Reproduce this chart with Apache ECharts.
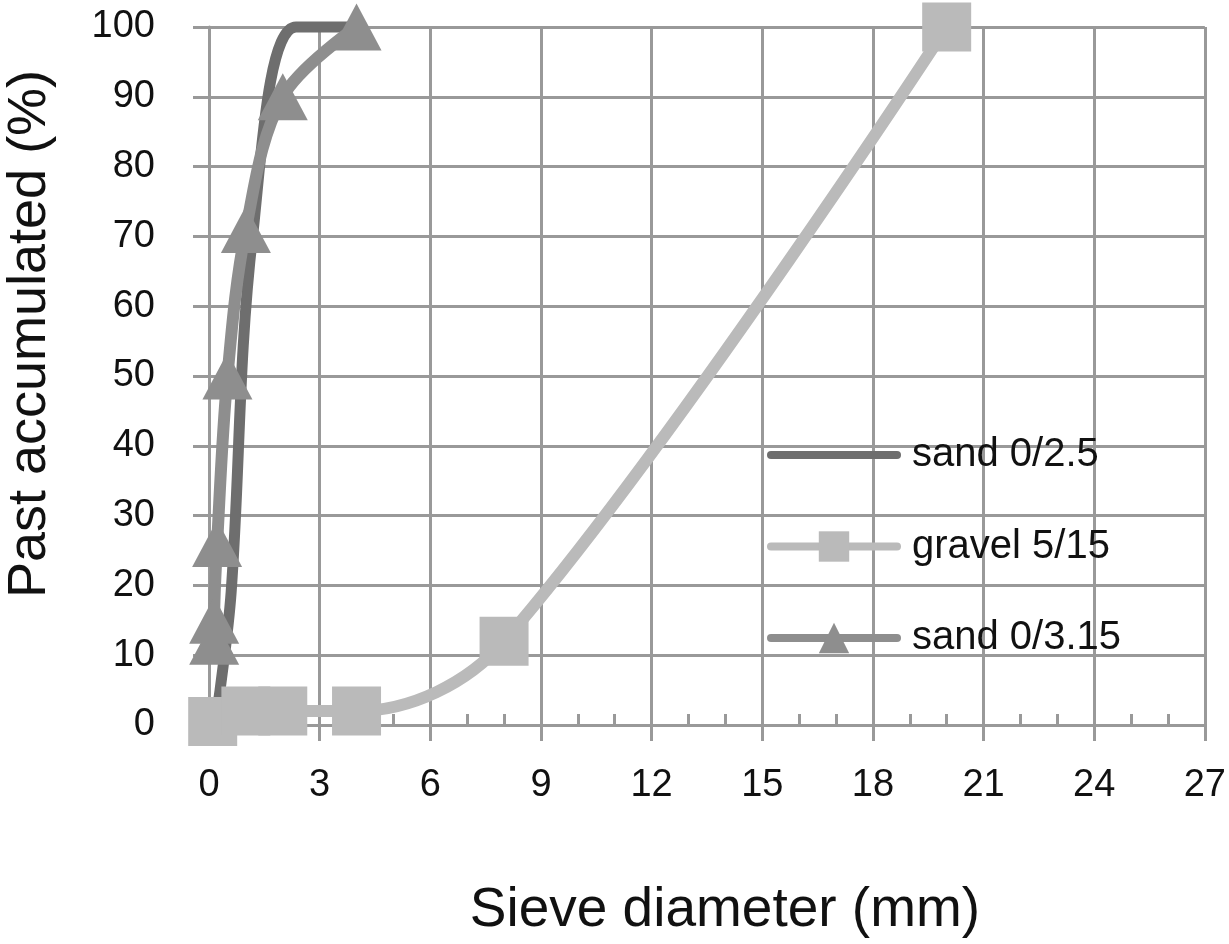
<!DOCTYPE html>
<html>
<head>
<meta charset="utf-8">
<script src="https://cdn.jsdelivr.net/npm/echarts@6/dist/echarts.min.js"></script>
<style>
  body { margin: 0; background: #fff; }
  #chart { width: 1229px; height: 944px; }
</style>
</head>
<body>
<div id="chart"></div>
<script>
// sieve diameter (mm) / past accumulated (%)
const sand25X = [0.15, 0.3, 0.6, 1.18, 2.36, 4];
const sand25Y = [0, 5, 19, 70, 100, 100];
const gravelX = [0.1, 1, 2, 4, 8, 20];
const gravelY = [0.5, 2, 2, 2, 12, 100];
const sand315X = [0.14, 0.14, 0.22, 0.5, 1, 2, 4];
const sand315Y = [12, 15, 26, 50, 71, 90, 100];
const seriesNames = ['sand 0/2.5', 'gravel 5/15', 'sand 0/3.15'];
const xTicks = [0, 3, 6, 9, 12, 15, 18, 21, 24, 27];
const yTicks = [0, 10, 20, 30, 40, 50, 60, 70, 80, 90, 100];

const font = "'Liberation Sans', Arial, sans-serif";
const gridColor = '#999999';

function pairs (xs, ys) {
  return xs.map((x, i) => [x, ys[i]]);
}

const myChart = echarts.init(document.getElementById('chart'));

const option = {
  animation: false,
  textStyle: { fontFamily: font },
  grid: { left: 209, right: 19, top: 27, bottom: 219 },
  legend: {
    orient: 'vertical',
    left: 762,
    top: 430,
    itemWidth: 126,
    itemHeight: 38,
    itemGap: 51.5,
    data: [
      { name: seriesNames[0], itemStyle: { color: 'rgba(0,0,0,0)', borderWidth: 0 } },
      { name: seriesNames[1] },
      { name: seriesNames[2] }
    ],
    lineStyle: { width: 8, cap: 'round' },
    textStyle: { fontSize: 40, color: '#111', fontFamily: font, padding: [0, 0, 0, 10] }
  },
  graphic: [{
    type: 'text',
    x: 30,
    y: 334,
    rotation: Math.PI / 2,
    style: {
      text: 'Past accumulated (%)',
      font: "54px 'Liberation Sans', Arial, sans-serif",
      fill: '#111',
      align: 'center',
      verticalAlign: 'middle'
    }
  }],
  xAxis: [
    {
      type: 'value',
      min: xTicks[0],
      max: xTicks[xTicks.length - 1],
      interval: 3,
      name: 'Sieve diameter (mm)',
      nameLocation: 'middle',
      nameGap: 158,
      nameTextStyle: { fontSize: 55, color: '#111', fontFamily: font, padding: [0, 0, 0, 36] },
      axisLine: { show: true, onZero: false, lineStyle: { color: gridColor, width: 3 } },
      axisTick: { show: true, length: 16, lineStyle: { color: gridColor, width: 3 } },
      axisLabel: { fontSize: 38, color: '#111', margin: 42, fontFamily: font },
      splitLine: { show: true, lineStyle: { color: gridColor, width: 3 } }
    },
    {
      // inner minor ticks every 1 mm
      type: 'value',
      min: xTicks[0],
      max: xTicks[xTicks.length - 1],
      interval: 3,
      position: 'bottom',
      axisLine: { show: false },
      axisTick: { show: false, inside: true },
      axisLabel: { show: false },
      splitLine: { show: false },
      minorTick: { show: true, splitNumber: 3, length: 11, lineStyle: { color: gridColor, width: 3 } }
    }
  ],
  yAxis: {
    type: 'value',
    min: yTicks[0],
    max: yTicks[yTicks.length - 1],
    interval: 10,
    axisLine: { show: true, lineStyle: { color: gridColor, width: 3 } },
    axisTick: { show: true, length: 16, lineStyle: { color: gridColor, width: 3 } },
    axisLabel: { fontSize: 38, color: '#111', margin: 54, fontFamily: font },
    splitLine: { show: true, lineStyle: { color: gridColor, width: 3 } }
  },
  series: [
    {
      name: seriesNames[0],
      type: 'line',
      data: pairs(sand25X, sand25Y),
      smooth: 0.35,
      clip: false,
      symbol: 'none',
      color: '#6e6e6e',
      lineStyle: { width: 11, color: '#6e6e6e' }
    },
    {
      name: seriesNames[1],
      type: 'line',
      data: pairs(gravelX, gravelY),
      smooth: 0.35,
      clip: false,
      symbol: 'rect',
      symbolSize: 49,
      showAllSymbol: true,
      color: '#bababa',
      itemStyle: { color: '#bababa' },
      lineStyle: { width: 12, color: '#bababa' }
    },
    {
      name: seriesNames[2],
      type: 'line',
      data: pairs(sand315X, sand315Y),
      smooth: 0.35,
      clip: false,
      symbol: 'triangle',
      symbolSize: [50, 47],
      showAllSymbol: true,
      color: '#8e8e8e',
      itemStyle: { color: '#8e8e8e' },
      lineStyle: { width: 12, color: '#8e8e8e' }
    }
  ]
};

myChart.setOption(option);
</script>
</body>
</html>
